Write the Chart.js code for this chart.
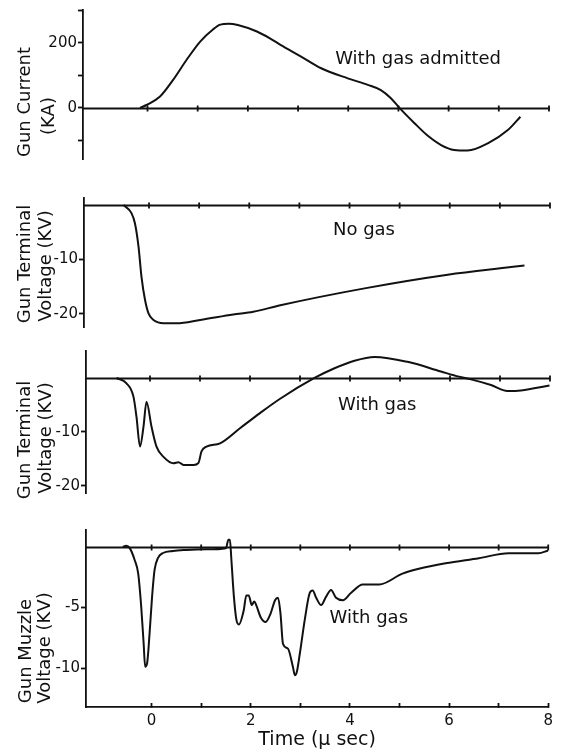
<!DOCTYPE html>
<html>
<head>
<meta charset="utf-8">
<title>Gun current and voltage traces</title>
<script src="https://cdn.jsdelivr.net/npm/chart.js@4.4.1/dist/chart.umd.min.js"></script>
<style>
  html, body { margin: 0; padding: 0; background: #fff; }
  #sheet { position: relative; width: 562px; height: 753px; overflow: hidden; background: #fff; }
  #sheet canvas { position: absolute; left: 0; }
</style>
</head>
<body>
<div id="sheet">
  <canvas id="current"></canvas>
  <canvas id="termNoGas"></canvas>
  <canvas id="termGas"></canvas>
  <canvas id="muzzle"></canvas>
</div>
<script>
// time axis (µs)
const timeTicks = [0, 1, 2, 3, 4, 5, 6, 7, 8];
const timeLabels = ['0', '', '2', '', '4', '', '6', '', '8'];

// gun current, with gas admitted (kA)
const currentTime = [-0.15, -0.02, 0.25, 0.51, 0.78, 1.05, 1.31, 1.45, 1.62, 1.80, 2.18, 2.44, 2.65, 3.06, 3.46, 3.99, 4.39, 4.65, 4.85, 5.02, 5.32, 5.58, 5.85, 6.11, 6.38, 6.78, 7.18, 7.43];
const currentKA   = [0, 9, 35, 86, 148, 204, 242, 256, 259, 255, 235, 214, 194, 158, 122, 91, 71, 55, 30, 0, -47, -85, -114, -129, -131, -109, -68, -27];
const currentTicks = [300, 200, 100, 0, -100];
const currentTickLabels = ['', '200', '', '0', ''];

// terminal voltage, no gas (kV)
const noGasTime = [-0.51, -0.35, -0.28, -0.21, -0.15, -0.08, -0.01, 0.09, 0.29, 0.55, 1.02, 1.68, 2.08, 2.62, 4.30, 5.96, 7.22, 7.49];
const noGasKV   = [0, -1.5, -3.4, -7.6, -13.2, -17.4, -19.9, -21.1, -21.7, -21.7, -21.1, -20.1, -19.6, -18.4, -15.3, -12.8, -11.4, -11.1];

// terminal voltage, with gas (kV)
const termGasTime = [-0.67, -0.47, -0.33, -0.27, -0.20, -0.13, -0.07, 0.03, 0.13, 0.27, 0.47, 0.57, 0.67, 0.87, 0.97, 1.03, 1.13, 1.40, 1.80, 2.20, 2.61, 3.29, 3.69, 4.09, 4.49, 5.15, 5.82, 6.18, 6.42, 6.82, 7.15, 7.42, 7.99];
const termGasKV   = [0, -1.0, -3.5, -7.2, -12.7, -9.0, -4.4, -9.0, -12.7, -14.6, -15.8, -15.6, -16.1, -16.1, -15.7, -13.6, -12.7, -12.1, -9.3, -6.5, -3.8, 0, 1.8, 3.2, 3.9, 3.0, 1.2, 0.25, -0.25, -1.3, -2.4, -2.3, -1.4];
const terminalTicks = [-10, -20];
const terminalTickLabels = ['-10', '-20'];

// muzzle voltage, with gas (kV)
const muzzleTime = [-0.58, -0.51, -0.44, -0.34, -0.27, -0.21, -0.16, -0.13, -0.09, -0.04, 0.01, 0.06, 0.13, 0.23, 0.43, 0.70, 1.10, 1.50, 1.55, 1.58, 1.61, 1.66, 1.71, 1.76, 1.86, 1.91, 1.96, 2.02, 2.07, 2.11, 2.20, 2.30, 2.40, 2.49, 2.55, 2.60, 2.65, 2.75, 2.85, 2.89, 2.93, 2.99, 3.09, 3.19, 3.25, 3.32, 3.42, 3.52, 3.62, 3.72, 3.86, 4.02, 4.26, 4.59, 5.06, 5.39, 5.93, 6.60, 7.20, 7.80, 8.00];
const muzzleKV   = [0, 0.1, -0.1, -1.1, -2.2, -4.9, -8.0, -9.9, -9.6, -7.1, -4.1, -1.9, -0.9, -0.5, -0.33, -0.25, -0.2, -0.1, 0.6, 0.6, -1.1, -4.1, -6.0, -6.4, -5.2, -4.0, -4.0, -4.8, -4.5, -4.8, -5.8, -6.2, -5.5, -4.4, -4.2, -5.5, -8.0, -8.4, -9.9, -10.6, -10.3, -8.8, -6.0, -3.8, -3.6, -4.2, -4.8, -4.1, -3.55, -4.2, -4.4, -3.8, -3.1, -3.1, -2.2, -1.8, -1.35, -0.93, -0.52, -0.52, -0.3];
const muzzleTicks = [-5, -10];
const muzzleTickLabels = ['-5', '-10'];

const INK = '#111';
const FONT = "'DejaVu Sans', sans-serif";
Chart.defaults.font.family = FONT;
Chart.defaults.font.size = 15;
Chart.defaults.color = INK;

// baseline at zero with small cross ticks every microsecond
const zeroLine = {
  id: 'zeroLine',
  beforeDatasetsDraw(chart) {
    const {ctx, chartArea, scales: {x, y}} = chart;
    const y0 = Math.round(y.getPixelForValue(0)) + 0.5;
    ctx.save();
    ctx.strokeStyle = INK;
    ctx.lineWidth = 1.8;
    ctx.beginPath();
    ctx.moveTo(chartArea.left, y0);
    ctx.lineTo(chartArea.right, y0);
    timeTicks.forEach(t => {
      const px = x.getPixelForValue(t);
      ctx.moveTo(px, y0 - 3);
      ctx.lineTo(px, y0 + 3);
    });
    ctx.stroke();
    ctx.restore();
  }
};

// rotated two-line axis caption and the trace note
const panelText = {
  id: 'panelText',
  afterDraw(chart, args, opts) {
    const {ctx, scales: {x, y}} = chart;
    ctx.save();
    ctx.fillStyle = INK;
    ctx.font = '18px ' + FONT;
    ctx.textAlign = 'center';
    ctx.textBaseline = 'middle';
    opts.side.forEach(s => {
      ctx.save();
      ctx.translate(s.x, s.y - opts.offset);
      ctx.rotate(-Math.PI / 2);
      ctx.fillText(s.text, 0, 0);
      ctx.restore();
    });
    ctx.textAlign = 'left';
    ctx.fillText(opts.note.text, x.getPixelForValue(opts.note.at[0]), y.getPixelForValue(opts.note.at[1]));
    ctx.restore();
  }
};

function panel(id, cfg) {
  const canvas = document.getElementById(id);
  const padTop = 14;
  const axisHeight = cfg.timeAxis ? 46 : 0;
  const padBottom = cfg.timeAxis ? 0 : 14;
  const canvasTop = cfg.top - padTop;
  canvas.width = 562;
  canvas.height = cfg.bottom - cfg.top + padTop + padBottom + axisHeight;
  canvas.style.top = canvasTop + 'px';

  const xScale = {
    type: 'linear',
    min: cfg.xMin,
    max: cfg.xMax,
    display: !!cfg.timeAxis
  };
  if (cfg.timeAxis) {
    Object.assign(xScale, {
      position: 'bottom',
      afterBuildTicks: s => { s.ticks = timeTicks.map(v => ({value: v})); },
      afterFit: s => { s.height = axisHeight; },
      ticks: { callback: (v, i) => timeLabels[i], padding: 9, autoSkip: false, maxRotation: 0 },
      grid: { drawOnChartArea: false, tickLength: -4, tickColor: INK, tickWidth: 1.8 },
      border: { color: INK, width: 1.8 },
      title: { display: true, text: 'Time (µ sec)', font: { size: 19 }, color: INK, padding: { top: 0, bottom: 2 } }
    });
  }

  return new Chart(canvas, {
    type: 'line',
    data: {
      datasets: [{
        data: cfg.times.map((t, i) => ({x: t, y: cfg.values[i]})),
        borderColor: INK,
        borderWidth: 2,
        pointRadius: 0,
        cubicInterpolationMode: 'monotone'
      }]
    },
    options: {
      responsive: false,
      animation: false,
      layout: { padding: { top: padTop, bottom: padBottom, left: 0, right: 562 - cfg.right } },
      plugins: {
        legend: { display: false },
        tooltip: { enabled: false },
        panelText: { side: cfg.side, note: cfg.note, offset: canvasTop }
      },
      scales: {
        x: xScale,
        y: {
          type: 'linear',
          min: cfg.yMin,
          max: cfg.yMax,
          afterFit: s => { s.width = cfg.left; },
          afterBuildTicks: s => { s.ticks = cfg.ticks.map(v => ({value: v})); },
          ticks: { callback: (v, i) => cfg.tickLabels[i], padding: 1, autoSkip: false },
          grid: { drawOnChartArea: false, tickLength: 5, tickColor: INK, tickWidth: 1.8 },
          border: { color: INK, width: 1.8 }
        }
      }
    },
    plugins: [zeroLine, panelText]
  });
}

panel('current', {
  top: 10, bottom: 159, left: 83, right: 550,
  xMin: -1.285, xMax: 8.02, yMin: -157, yMax: 301,
  times: currentTime, values: currentKA,
  ticks: currentTicks, tickLabels: currentTickLabels,
  side: [{text: 'Gun Current', x: 25, y: 102}, {text: '(KA)', x: 49, y: 116}],
  note: {text: 'With gas admitted', at: [3.74, 148]}
});

panel('termNoGas', {
  top: 198, bottom: 327, left: 84, right: 550,
  xMin: -1.297, xMax: 8.0, yMin: -22.39, yMax: 1.28,
  times: noGasTime, values: noGasKV,
  ticks: terminalTicks, tickLabels: terminalTickLabels,
  side: [{text: 'Gun Terminal', x: 25, y: 264}, {text: 'Voltage (KV)', x: 46, y: 266}],
  note: {text: 'No gas', at: [3.67, -4.6]}
});

panel('termGas', {
  top: 351, bottom: 493, left: 86, right: 550,
  xMin: -1.28, xMax: 8.0, yMin: -21.3, yMax: 5.0,
  times: termGasTime, values: termGasKV,
  ticks: terminalTicks, tickLabels: terminalTickLabels,
  side: [{text: 'Gun Terminal', x: 25, y: 440}, {text: 'Voltage (KV)', x: 46, y: 438}],
  note: {text: 'With gas', at: [3.76, -5.0]}
});

panel('muzzle', {
  top: 530, bottom: 707, left: 86, right: 551, timeAxis: true,
  xMin: -1.323, xMax: 8.0, yMin: -13.22, yMax: 1.4,
  times: muzzleTime, values: muzzleKV,
  ticks: muzzleTicks, tickLabels: muzzleTickLabels,
  side: [{text: 'Gun Muzzle', x: 26, y: 651}, {text: 'Voltage (KV)', x: 45, y: 648}],
  note: {text: 'With gas', at: [3.59, -5.9]}
});
</script>
</body>
</html>
